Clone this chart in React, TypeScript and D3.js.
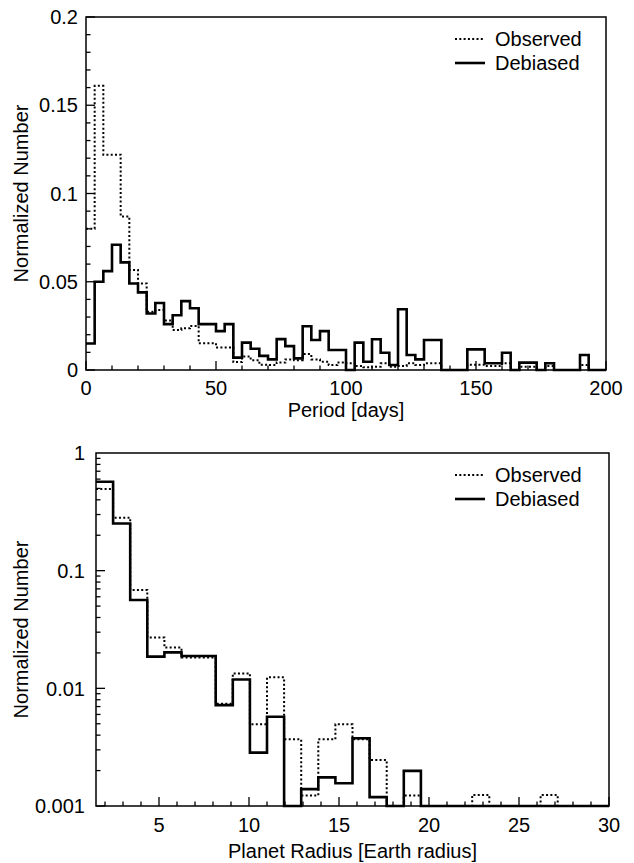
import React, { useEffect, useRef } from 'react';
import * as d3 from 'd3';

// Top panel: 60 bins over 0-200 days
const periodDomain: [number, number] = [0, 200];
const observedPeriod = [
    0.080, 0.161, 0.122, 0.122, 0.087, 0.0567, 0.049, 0.033, 0.034, 0.028,
    0.0227, 0.0236, 0.0249, 0.0151, 0.0151, 0.0127, 0.0127, 0.0045, 0.0077, 0.0055,
    0.003, 0.0028, 0.0042, 0.006, 0.0055, 0.009, 0.006, 0.0047, 0.0028, 0.0042,
    0.0038, 0.0023, 0.0015, 0.0019, 0.0038, 0.0019, 0.0023, 0.0038, 0.0028, 0.0038,
    0.0038, 0, 0, 0, 0.003, 0.003, 0.0023, 0.0023, 0.0038, 0,
    0.0019, 0.0019, 0, 0.0023, 0, 0, 0, 0.0028, 0, 0,
];
const debiasedPeriod = [
    0.015, 0.050, 0.056, 0.071, 0.061, 0.049, 0.044, 0.032, 0.038, 0.026,
    0.031, 0.039, 0.035, 0.026, 0.026, 0.022, 0.026, 0.007, 0.0155, 0.012,
    0.008, 0.006, 0.0175, 0.0135, 0.0066, 0.0248, 0.017, 0.022, 0.0113, 0.0113,
    0, 0.0155, 0.0047, 0.0174, 0.0098, 0.0028, 0.0344, 0.0085, 0.006, 0.017,
    0.017, 0, 0, 0, 0.0117, 0.0117, 0.0038, 0.0038, 0.0098, 0,
    0.0042, 0.0042, 0, 0.0038, 0, 0, 0, 0.0085, 0, 0,
];
const periodTicks = [0, 50, 100, 150, 200];
const periodYTicks = [0, 0.05, 0.1, 0.15, 0.2];

// Bottom panel: 30 bins over 1.5-30 Earth radii, log y
const radiusDomain: [number, number] = [1.5, 30];
const observedRadius = [
    0.494, 0.282, 0.0685, 0.0271, 0.0222, 0.0183, 0.0183, 0.0074, 0.0134, 0.00494,
    0.0124, 0.00369, 0.00123, 0.00369, 0.00494, 0.0037, 0.00246, 0, 0.00123, 0,
    0, 0, 0.00124, 0, 0, 0, 0.00124, 0, 0, 0,
];
const debiasedRadius = [
    0.57, 0.252, 0.0563, 0.0186, 0.0202, 0.0188, 0.0188, 0.0072, 0.0119, 0.00284,
    0.00574, 0, 0.00139, 0.00175, 0.00156, 0.00376, 0.00119, 0, 0.00199, 0,
    0, 0, 0, 0, 0, 0, 0, 0, 0, 0,
];
const radiusTicks = [5, 10, 15, 20, 25, 30];
const radiusYTicks = [0.001, 0.01, 0.1, 1];

const FONT = '"Liberation Sans", Arial, Helvetica, sans-serif';

const App: React.FC = () => {
    const ref = useRef<SVGSVGElement>(null);

    useEffect(() => {
        const svg = d3.select(ref.current);
        svg.selectAll('*').remove();

        const stepPath = (values: number[], domain: [number, number], x: any, yv: (v: number) => number) => {
            const w = (domain[1] - domain[0]) / values.length;
            const pts: [number, number][] = values.map((v, i) => [domain[0] + i * w, v]);
            pts.push([domain[1], values[values.length - 1]]);
            return d3.line<[number, number]>()
                .x(d => x(d[0]))
                .y(d => yv(d[1]))
                .curve(d3.curveStepAfter)(pts);
        };

        const drawLegend = (g: any, left: number, top: number) => {
            const items = [
                { label: 'Observed', dash: '2,2.3', width: 2 },
                { label: 'Debiased', dash: null, width: 2.6 },
            ];
            items.forEach((it, i) => {
                const yy = top + i * 24;
                g.append('line')
                    .attr('x1', left).attr('x2', left + 30)
                    .attr('y1', yy).attr('y2', yy)
                    .attr('stroke', '#000')
                    .attr('stroke-width', it.width)
                    .attr('stroke-dasharray', it.dash);
                g.append('text')
                    .attr('x', left + 40).attr('y', yy)
                    .attr('dy', '0.36em')
                    .attr('font-size', 20)
                    .text(it.label);
            });
        };

        const root = svg.append('g').attr('font-family', FONT).attr('fill', '#000');

        // ---------- top panel ----------
        {
            const L = 86, R = 606, T = 17, B = 370;
            const x = d3.scaleLinear().domain(periodDomain).range([L, R]);
            const y = d3.scaleLinear().domain([0, 0.2]).range([B, T]);
            const g = root.append('g');

            // ticks
            d3.range(0, 201, 10).forEach(v => {
                const major = periodTicks.includes(v);
                g.append('line').attr('x1', x(v)).attr('x2', x(v))
                    .attr('y1', B).attr('y2', B - (major ? 9 : 4.5))
                    .attr('stroke', '#000').attr('stroke-width', 1.3);
            });
            d3.range(0, 21).forEach(k => {
                const v = k / 100;
                const major = k % 5 === 0;
                g.append('line').attr('x1', L).attr('x2', L + (major ? 9 : 4.5))
                    .attr('y1', y(v)).attr('y2', y(v))
                    .attr('stroke', '#000').attr('stroke-width', 1.3);
            });
            periodTicks.forEach(v => {
                g.append('text').attr('x', x(v)).attr('y', 395)
                    .attr('text-anchor', 'middle').attr('font-size', 20).text(v);
            });
            periodYTicks.forEach(v => {
                g.append('text').attr('x', L - 8).attr('y', y(v)).attr('dy', '0.36em')
                    .attr('text-anchor', 'end').attr('font-size', 20).text(String(v));
            });

            g.append('path').attr('d', stepPath(observedPeriod, periodDomain, x, v => y(v)))
                .attr('fill', 'none').attr('stroke', '#000').attr('stroke-width', 2)
                .attr('stroke-dasharray', '2,2.3');
            g.append('path').attr('d', stepPath(debiasedPeriod, periodDomain, x, v => y(v)))
                .attr('fill', 'none').attr('stroke', '#000').attr('stroke-width', 2.6);

            g.append('rect').attr('x', L).attr('y', T).attr('width', R - L).attr('height', B - T)
                .attr('fill', 'none').attr('stroke', '#000').attr('stroke-width', 1.5);

            g.append('text').attr('x', (L + R) / 2).attr('y', 417)
                .attr('text-anchor', 'middle').attr('font-size', 20).text('Period [days]');
            g.append('text').attr('transform', `translate(28,${(T + B) / 2}) rotate(-90)`)
                .attr('text-anchor', 'middle').attr('font-size', 20).text('Normalized Number');

            drawLegend(g, 455, 39);
        }

        // ---------- bottom panel ----------
        {
            const L = 96, R = 609, T = 453, B = 806;
            const x = d3.scaleLinear().domain(radiusDomain).range([L, R]);
            const y = d3.scaleLog().domain([0.001, 1]).range([B, T]).clamp(true);
            const yv = (v: number) => (v > 0 ? y(v) : B);
            const g = root.append('g');

            d3.range(2, 31).forEach(v => {
                const major = radiusTicks.includes(v);
                g.append('line').attr('x1', x(v)).attr('x2', x(v))
                    .attr('y1', B).attr('y2', B - (major ? 9 : 4.5))
                    .attr('stroke', '#000').attr('stroke-width', 1.3);
            });
            [0.001, 0.01, 0.1].forEach(dec => {
                d3.range(1, 10).forEach(m => {
                    const v = dec * m;
                    g.append('line').attr('x1', L).attr('x2', L + (m === 1 ? 9 : 4.5))
                        .attr('y1', y(v)).attr('y2', y(v))
                        .attr('stroke', '#000').attr('stroke-width', 1.3);
                });
            });
            radiusTicks.forEach(v => {
                g.append('text').attr('x', x(v)).attr('y', 832)
                    .attr('text-anchor', 'middle').attr('font-size', 20).text(v);
            });
            radiusYTicks.forEach(v => {
                g.append('text').attr('x', L - 11).attr('y', y(v)).attr('dy', '0.36em')
                    .attr('text-anchor', 'end').attr('font-size', 20).text(String(v));
            });

            g.append('path').attr('d', stepPath(observedRadius, radiusDomain, x, yv))
                .attr('fill', 'none').attr('stroke', '#000').attr('stroke-width', 2)
                .attr('stroke-dasharray', '2,2.3');
            g.append('path').attr('d', stepPath(debiasedRadius, radiusDomain, x, yv))
                .attr('fill', 'none').attr('stroke', '#000').attr('stroke-width', 2.6);

            g.append('rect').attr('x', L).attr('y', T).attr('width', R - L).attr('height', B - T)
                .attr('fill', 'none').attr('stroke', '#000').attr('stroke-width', 1.5);

            g.append('text').attr('x', (L + R) / 2).attr('y', 858)
                .attr('text-anchor', 'middle').attr('font-size', 20).text('Planet Radius [Earth radius]');
            g.append('text').attr('transform', `translate(28,${(T + B) / 2}) rotate(-90)`)
                .attr('text-anchor', 'middle').attr('font-size', 20).text('Normalized Number');

            drawLegend(g, 455, 475);
        }
    }, []);

    return (
        <svg ref={ref} width={634} height={863}
            style={{ position: 'absolute', left: 0, top: 0, background: '#fff' }} />
    );
};

export default App;
